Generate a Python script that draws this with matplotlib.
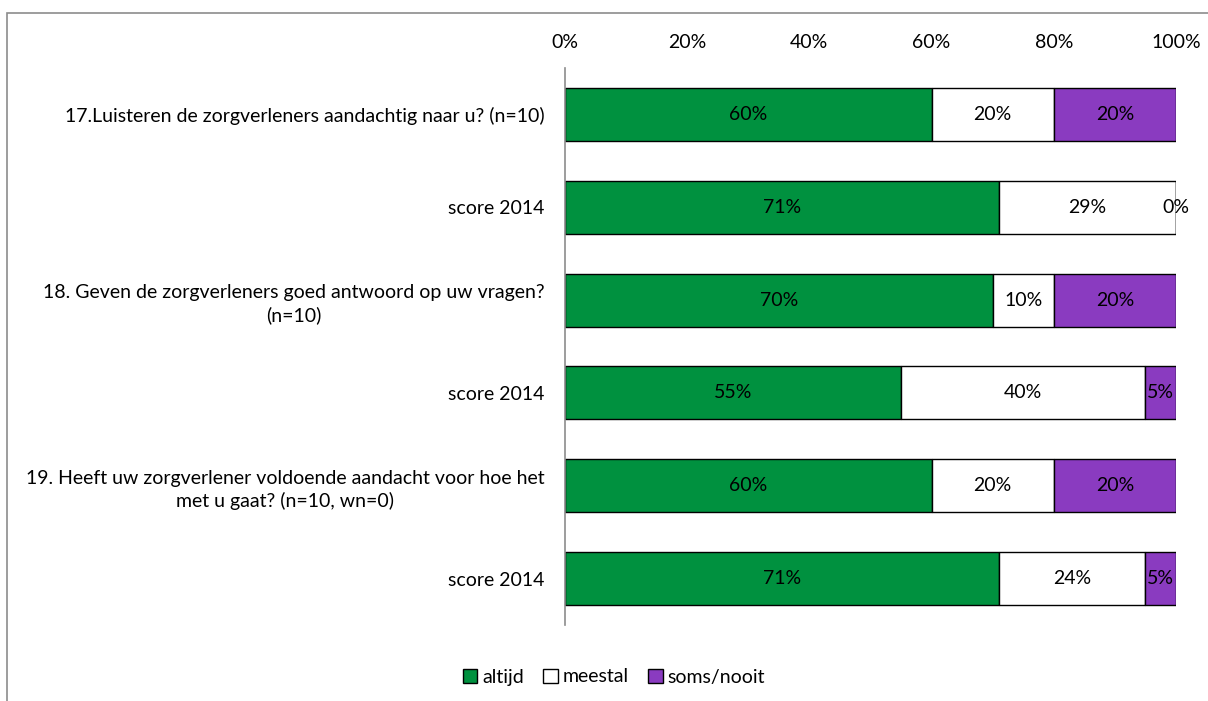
import numpy as np
import matplotlib
matplotlib.use("Agg")
import matplotlib.pyplot as plt
from matplotlib.patches import Rectangle

plt.rcParams['font.family'] = ['Lato', 'DejaVu Sans']

questions = [
    "17.Luisteren de zorgverleners aandachtig naar u? (n=10)",
    "score 2014",
    "18. Geven de zorgverleners goed antwoord op uw vragen?\n(n=10)",
    "score 2014",
    "19. Heeft uw zorgverlener voldoende aandacht voor hoe het\nmet u gaat? (n=10, wn=0)",
    "score 2014",
]
altijd = [60, 71, 70, 55, 60, 71]
meestal = [20, 29, 10, 40, 20, 24]
soms_nooit = [20, 0, 20, 5, 20, 5]

series = [("altijd", altijd, "#00913F"),
          ("meestal", meestal, "#FFFFFF"),
          ("soms/nooit", soms_nooit, "#8A3BC0")]

FS = 14

fig = plt.figure(figsize=(12.08, 7.01), dpi=100)
ax = fig.add_axes([565 / 1208, 1 - 625 / 701, 611 / 1208, 557 / 701])

# chart area border
fig.patches.append(Rectangle((7 / 1208, -0.1), 1.2, 1 - 13 / 701 + 0.1,
                             transform=fig.transFigure, fill=False,
                             edgecolor="#8c8c8c", linewidth=1.2))

y = np.arange(len(questions))
left = np.zeros(len(questions))
for name, vals, color in series:
    vals = np.array(vals, dtype=float)
    ax.barh(y, vals, left=left, height=0.57, color=color,
            edgecolor="black", linewidth=1.0, label=name)
    for yi, l, v in zip(y, left, vals):
        ax.text(l + v / 2, yi, f"{v:.0f}%", ha="center", va="center",
                fontsize=FS)
    left += vals

ax.set_xlim(0, 100)
ax.set_ylim(len(questions) - 0.5, -0.5)
ax.xaxis.tick_top()
ax.set_xticks(np.arange(0, 101, 20))
ax.set_xticklabels([f"{t}%" for t in range(0, 101, 20)])
ax.tick_params(axis="x", length=0, pad=12, labelsize=FS)
ax.set_yticks(y)
ax.set_yticklabels(questions)
ax.tick_params(axis="y", length=0, pad=15, labelsize=FS)
for lbl in ax.get_yticklabels():
    lbl.set_multialignment("center")
    lbl.set_linespacing(1.35)

for side in ["top", "right", "bottom"]:
    ax.spines[side].set_visible(False)
ax.spines["left"].set_color("#8c8c8c")
ax.spines["left"].set_linewidth(1.2)

fig.legend(loc="center", bbox_to_anchor=(614 / 1208, 1 - 677 / 701), ncol=3,
           frameon=False, fontsize=FS, handlelength=0.75, handleheight=0.75,
           handletextpad=0.25, columnspacing=1.0)

fig.savefig("out.png", dpi=100)
